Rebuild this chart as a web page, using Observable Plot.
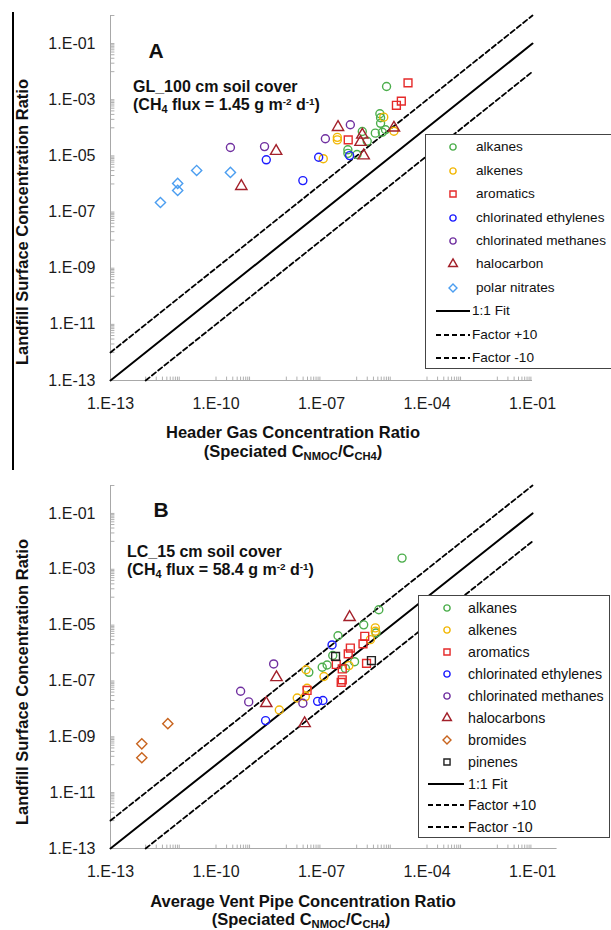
<!DOCTYPE html>
<html>
<head>
<meta charset="utf-8">
<script src="https://cdn.jsdelivr.net/npm/d3@7"></script>
<script src="https://cdn.jsdelivr.net/npm/@observablehq/plot@0.6"></script>
<style>
  html, body { margin: 0; padding: 0; background: #fff; overflow: hidden; }
  #fig { position: relative; width: 611px; height: 930px; overflow: hidden; }
  .sb { font-size: 0.68em; position: relative; top: 0.3em; }
  .sp { font-size: 0.62em; position: relative; top: -0.5em; }
</style>
</head>
<body>
<div id="fig"></div>
<script>
// ---------------- data (log10 of ratios: [x, y]) ----------------
// Panel A: header gas (x) vs landfill surface (y)
const alkanesA = [[-5.15,-2.53],[-5.34,-3.50],[-5.32,-3.64],[-5.32,-3.84],[-5.18,-4.07],[-5.27,-4.16],[-5.47,-4.19],[-5.84,-4.13],[-5.70,-4.48],[-6.25,-4.78],[-6.25,-4.91],[-5.99,-4.95]];
const alkenesA = [[-5.23,-3.62],[-4.94,-4.12],[-6.55,-4.34],[-6.55,-4.43],[-6.95,-5.10]];
const aromaticsA = [[-4.54,-2.40],[-4.73,-3.05],[-4.87,-3.20],[-6.24,-4.43]];
const chlEthylenesA = [[-6.20,-4.99],[-7.08,-5.05],[-8.57,-5.14],[-7.53,-5.88]];
const chlMethanesA = [[-9.59,-4.70],[-8.62,-4.67],[-6.89,-4.39],[-6.18,-3.89]];
const halocarbonA = [[-8.29,-4.83],[-9.28,-6.08],[-6.53,-3.98],[-5.84,-4.25],[-5.89,-4.51],[-5.80,-4.99],[-4.94,-4.00]];
const polarNitratesA = [[-11.58,-6.66],[-11.09,-5.98],[-11.09,-6.23],[-10.55,-5.52],[-9.59,-5.59]];

// Panel B: vent pipe (x) vs landfill surface (y)
const alkanesB = [[-4.71,-2.60],[-5.37,-4.45],[-5.80,-4.99],[-5.45,-5.28],[-6.53,-5.38],[-6.68,-6.09],[-6.06,-6.31],[-6.32,-6.55],[-6.98,-6.51],[-6.84,-6.43],[-7.36,-6.69]];
const alkenesB = [[-5.47,-5.10],[-5.47,-5.22],[-5.61,-5.52],[-6.22,-6.45],[-6.93,-6.84],[-7.44,-6.60],[-7.41,-7.26],[-7.69,-7.61],[-7.46,-7.56],[-8.20,-8.04]];
const aromaticsB = [[-5.77,-5.40],[-5.82,-5.67],[-6.18,-5.82],[-6.24,-6.03],[-6.58,-6.41],[-6.41,-6.57],[-5.72,-6.37],[-6.41,-6.96],[-6.44,-7.05],[-7.41,-7.34]];
const chlEthylenesB = [[-6.70,-5.71],[-7.11,-7.73],[-6.96,-7.70],[-8.59,-8.42]];
const chlMethanesB = [[-8.36,-6.39],[-9.30,-7.37],[-9.07,-7.75],[-7.53,-7.80]];
const halocarbonsB = [[-6.20,-4.72],[-8.28,-6.87],[-8.57,-7.80],[-7.48,-8.52]];
const bromidesB = [[-12.11,-9.25],[-12.11,-9.75],[-11.37,-8.53]];
const pinenesB = [[-6.60,-6.12],[-5.58,-6.27]];

// axes
const xDomain = [1e-13, 1e-1];
const yDomain = [1e-13, 1];
const xTickLabels = [1e-13, 1e-10, 1e-7, 1e-4, 1e-1];
const yTickLabels = [1e-13, 1e-11, 1e-9, 1e-7, 1e-5, 1e-3, 1e-1];
const minorExps = [-12, -10, -8, -6, -4, -2];
const decadeExps = [-13,-12,-11,-10,-9,-8,-7,-6,-5,-4,-3,-2,-1,0];

// reference lines: y = factor * x
const fitLines = [
  {label: "1:1 Fit", factor: 1, dash: null, width: 2},
  {label: "Factor +10", factor: 10, dash: "5,3", width: 1.8},
  {label: "Factor -10", factor: 0.1, dash: "5,3", width: 1.8}
];

// styles per category
const COLORS = {
  "alkanes": "#4cae4c", "alkenes": "#f2b705", "aromatics": "#e52a2a",
  "chlorinated ethylenes": "#1c1cff", "chlorinated methanes": "#7030a0",
  "halocarbon": "#a3202a", "halocarbons": "#a3202a", "polar nitrates": "#4c9ef0",
  "bromides": "#c8641e", "pinenes": "#222222"
};
const SYMBOLS = {
  "alkanes": "circle", "alkenes": "circle", "aromatics": "square2",
  "chlorinated ethylenes": "circle", "chlorinated methanes": "circle",
  "halocarbon": "triangle2", "halocarbons": "triangle2", "polar nitrates": "diamond2",
  "bromides": "diamond2", "pinenes": "square2"
};
const RADIUS = {circle: 4, square2: 5, triangle2: 5.4, diamond2: 4.6};
const D3SYM = {circle: d3.symbolCircle, square2: d3.symbolSquare2, triangle2: d3.symbolTriangle2, diamond2: d3.symbolDiamond2};

const seriesA = [
  ["alkanes", alkanesA], ["alkenes", alkenesA], ["aromatics", aromaticsA],
  ["chlorinated ethylenes", chlEthylenesA], ["chlorinated methanes", chlMethanesA],
  ["halocarbon", halocarbonA], ["polar nitrates", polarNitratesA]
];
const seriesB = [
  ["alkanes", alkanesB], ["alkenes", alkenesB], ["aromatics", aromaticsB],
  ["chlorinated ethylenes", chlEthylenesB], ["chlorinated methanes", chlMethanesB],
  ["halocarbons", halocarbonsB], ["bromides", bromidesB], ["pinenes", pinenesB]
];

const FONT = "'Liberation Sans', Arial, Helvetica, sans-serif";
const fig = document.getElementById("fig");

function fmtExp(d) {
  const e = Math.round(Math.log10(d));
  return "1.E" + (e < 0 ? "-" : "+") + String(Math.abs(e)).padStart(2, "0");
}

const tickShape = {draw(context, l) { context.moveTo(0, 0); context.lineTo(0, -l); }};

function makePanel(series, cfg) {
  const xMinor = minorExps.flatMap(e => d3.range(1, 10).map(k => k * Math.pow(10, e)));
  const yMinor = minorExps.flatMap(e => d3.range(2, 10).map(k => k * Math.pow(10, e)))
    .concat(decadeExps.map(e => Math.pow(10, e)));
  const lineData = fitLines.flatMap(f => {
    const x0 = Math.max(xDomain[0], yDomain[0] / f.factor);
    const x1 = Math.min(xDomain[1], yDomain[1] / f.factor);
    return [{...f, x: x0, y: x0 * f.factor}, {...f, x: x1, y: x1 * f.factor}];
  });
  const marks = [
    Plot.vector(xMinor, {x: d => d, frameAnchor: "bottom", length: 3.5, anchor: "start", shape: tickShape, stroke: "#9a9a9a", strokeWidth: 0.8}),
    Plot.vector(yMinor, {y: d => d, frameAnchor: "left", rotate: 90, length: 3.5, anchor: "start", shape: tickShape, stroke: "#9a9a9a", strokeWidth: 0.8}),
    Plot.ruleY([yDomain[0]], {x1: xDomain[0], x2: cfg.xAxisEnd, stroke: "#a8a8a8", strokeWidth: 1}),
    Plot.ruleX([xDomain[0]], {y1: yDomain[0], y2: yDomain[1], stroke: "#a8a8a8", strokeWidth: 1}),
    Plot.axisX({ticks: xTickLabels, tickFormat: fmtExp, tickSize: 0, tickPadding: 17, label: null, fill: "#1a1a1a"}),
    Plot.axisY({ticks: yTickLabels, tickFormat: fmtExp, tickSize: 0, tickPadding: 15, label: null, fill: "#1a1a1a"})
  ];
  for (const f of fitLines) {
    marks.push(Plot.line(lineData.filter(d => d.label === f.label), {
      x: "x", y: "y", stroke: "#000", strokeWidth: f.width, strokeDasharray: f.dash || undefined
    }));
  }
  for (const [name, pts] of series) {
    const sym = SYMBOLS[name];
    marks.push(Plot.dot(pts.map(([lx, ly]) => ({x: Math.pow(10, lx), y: Math.pow(10, ly)})), {
      x: "x", y: "y", symbol: sym, r: RADIUS[sym], stroke: COLORS[name], fill: "none", strokeWidth: 1.4
    }));
  }
  const svg = Plot.plot({
    width: 611, height: 465,
    marginLeft: 110, marginRight: 79, marginTop: cfg.mt, marginBottom: cfg.mb,
    x: {type: "log", domain: xDomain},
    y: {type: "log", domain: yDomain},
    style: {fontFamily: FONT, fontSize: "16px", background: "transparent", overflow: "visible"},
    marks
  });
  svg.style.position = "absolute";
  svg.style.left = "0px";
  svg.style.top = cfg.top + "px";
  fig.appendChild(svg);
}

function addText(html, css) {
  const d = document.createElement("div");
  d.innerHTML = html;
  Object.assign(d.style, {position: "absolute", whiteSpace: "nowrap", fontFamily: FONT, lineHeight: "1", color: "#111"}, css);
  fig.appendChild(d);
  return d;
}

function addLegend(series, box) {
  const lg = document.createElement("div");
  Object.assign(lg.style, {
    position: "absolute", left: box.left + "px", top: box.top + "px",
    width: box.width + "px", height: box.height + "px",
    background: "#fff", border: "1px solid #444", boxSizing: "border-box",
    fontFamily: FONT, fontSize: box.fontSize + "px", color: "#111"
  });
  fig.appendChild(lg);
  const items = series.map(([name]) => ({type: "sym", label: name}))
    .concat(fitLines.map(f => ({type: "line", label: f.label, dash: f.dash, width: f.width})));
  items.forEach((it, i) => {
    const cy = box.first + i * box.rowH;
    if (it.type === "sym") {
      const sym = SYMBOLS[it.label];
      const r = RADIUS[sym] * 0.78;
      const s = d3.create("svg").attr("width", 20).attr("height", 20)
        .style("position", "absolute").style("left", (box.markX - 10) + "px").style("top", (cy - 10) + "px");
      s.append("path").attr("transform", "translate(10,10)")
        .attr("d", d3.symbol(D3SYM[sym], Math.PI * r * r)())
        .attr("fill", "none").attr("stroke", COLORS[it.label]).attr("stroke-width", 1.4);
      lg.appendChild(s.node());
      const t = document.createElement("div");
      t.textContent = it.label;
      Object.assign(t.style, {position: "absolute", left: box.textX + "px", top: cy + "px", transform: "translateY(-50%)", whiteSpace: "nowrap", lineHeight: "1"});
      lg.appendChild(t);
    } else {
      const w = box.lineX2 - box.lineX1;
      const s = d3.create("svg").attr("width", w).attr("height", 6)
        .style("position", "absolute").style("left", box.lineX1 + "px").style("top", (cy - 3) + "px");
      s.append("line").attr("x1", 0).attr("x2", w).attr("y1", 3).attr("y2", 3)
        .attr("stroke", "#000").attr("stroke-width", it.width)
        .attr("stroke-dasharray", it.dash || null);
      lg.appendChild(s.node());
      const t = document.createElement("div");
      t.textContent = it.label;
      Object.assign(t.style, {position: "absolute", left: box.lineTextX + "px", top: cy + "px", transform: "translateY(-50%)", whiteSpace: "nowrap", lineHeight: "1"});
      lg.appendChild(t);
    }
  });
}

// ---------------- Panel A ----------------
makePanel(seriesA, {top: 0, mt: 15, mb: 85, xAxisEnd: 1e-1});
// ---------------- Panel B ----------------
makePanel(seriesB, {top: 465, mt: 20, mb: 82, xAxisEnd: 5e-1});

// left border line
const bar = document.createElement("div");
Object.assign(bar.style, {position: "absolute", left: "12px", top: "12px", width: "1.5px", height: "458px", background: "#000"});
fig.appendChild(bar);

// annotations panel A
addText("A", {left: "156px", top: "50px", transform: "translate(-50%,-50%)", fontSize: "21px", fontWeight: "bold"});
addText("GL_100 cm soil cover", {left: "133px", top: "87px", transform: "translateY(-50%)", fontSize: "16px", fontWeight: "bold"});
addText("(CH<span class='sb'>4</span> flux = 1.45 g m<span class='sp'>-2</span> d<span class='sp'>-1</span>)", {left: "133px", top: "105px", transform: "translateY(-50%)", fontSize: "16px", fontWeight: "bold"});
addText("Landfill Surface Concentration Ratio", {left: "22px", top: "222px", transform: "translate(-50%,-50%) rotate(-90deg)", fontSize: "16.5px", fontWeight: "bold"});
addText("Header Gas Concentration Ratio", {left: "293px", top: "432px", transform: "translate(-50%,-50%)", fontSize: "16.5px", fontWeight: "bold"});
addText("(Speciated C<span class='sb'>NMOC</span>/C<span class='sb'>CH4</span>)", {left: "293px", top: "451px", transform: "translate(-50%,-50%)", fontSize: "16.5px", fontWeight: "bold"});

// annotations panel B
addText("B", {left: "161px", top: "509px", transform: "translate(-50%,-50%)", fontSize: "21px", fontWeight: "bold"});
addText("LC_15 cm soil cover", {left: "127px", top: "552px", transform: "translateY(-50%)", fontSize: "16px", fontWeight: "bold"});
addText("(CH<span class='sb'>4</span> flux = 58.4 g m<span class='sp'>-2</span> d<span class='sp'>-1</span>)", {left: "127px", top: "570px", transform: "translateY(-50%)", fontSize: "16px", fontWeight: "bold"});
addText("Landfill Surface Concentration Ratio", {left: "22px", top: "682px", transform: "translate(-50%,-50%) rotate(-90deg)", fontSize: "16.5px", fontWeight: "bold"});
addText("Average Vent Pipe Concentration Ratio", {left: "303px", top: "901px", transform: "translate(-50%,-50%)", fontSize: "16.5px", fontWeight: "bold"});
addText("(Speciated C<span class='sb'>NMOC</span>/C<span class='sb'>CH4</span>)", {left: "301px", top: "919px", transform: "translate(-50%,-50%)", fontSize: "16.5px", fontWeight: "bold"});

// legends
addLegend(seriesA, {left: 425, top: 134, width: 200, height: 235, fontSize: 13.6, first: 12.3, rowH: 23.4,
  markX: 27, textX: 50, lineX1: 10, lineX2: 44, lineTextX: 46});
addLegend(seriesB, {left: 418, top: 595, width: 192, height: 243, fontSize: 14.2, first: 12.3, rowH: 21.9,
  markX: 27.5, textX: 49, lineX1: 9, lineX2: 45, lineTextX: 49});
</script>
</body>
</html>
